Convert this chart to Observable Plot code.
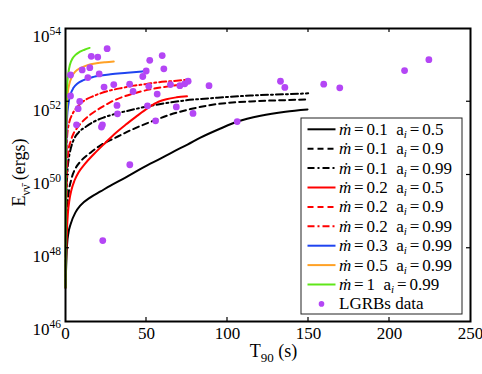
<!DOCTYPE html>
<html><head><meta charset="utf-8">
<script src="https://cdn.jsdelivr.net/npm/d3@7"></script>
<script src="https://cdn.jsdelivr.net/npm/@observablehq/plot@0.6"></script>
<style>body{margin:0;background:#fff} svg{font-family:"Liberation Serif",serif}</style>
</head><body><div id="chart"></div><script>
// ---- data ----
const xTicks = [0, 50, 100, 150, 200, 250];
const yTickExps = [46, 48, 50, 52, 54];

const mdotLabels = ["0.1", "0.1", "0.1", "0.2", "0.2", "0.2", "0.3", "0.5", "1"];
const aLabels    = ["0.5", "0.9", "0.99", "0.5", "0.9", "0.99", "0.99", "0.99", "0.99"];
const colors     = ["#000000", "#000000", "#000000", "#ff0000", "#ff0000", "#ff0000", "#1f44f0", "#ffa125", "#5fe619"];
const dashes     = [null, "6,4", "7,3,2,3", null, "6,4", "7,3,2,3", null, null, null];

// T90 (s) and log10(E) along each model curve
const c1T = [0, 0.93, 1.85, 3.09, 6.17, 9.26, 15.4, 21.6, 27.8, 37.0, 48.1, 58.6, 66.7, 75.3, 83.3, 95.7, 106.2, 120.4, 135.8, 149.4];
const c1E = [46.93, 48.08, 48.43, 48.65, 48.98, 49.17, 49.39, 49.55, 49.71, 49.93, 50.21, 50.45, 50.64, 50.83, 51.02, 51.27, 51.46, 51.62, 51.73, 51.79];
const c2T = [0, 0.37, 0.93, 1.85, 3.70, 6.17, 9.26, 15.43, 21.6, 30.9, 40.1, 52.5, 64.8, 77.2, 92.6, 114.2, 132.7, 149.7];
const c2E = [46.96, 48.21, 48.98, 49.47, 49.90, 50.18, 50.37, 50.61, 50.81, 51.02, 51.22, 51.45, 51.65, 51.80, 51.93, 52.01, 52.04, 52.06];
const c3T = [0, 0.37, 0.74, 1.23, 2.04, 3.40, 5.12, 8.02, 12.35, 17.3, 23.6, 30.9, 38.1, 52.5, 72.8, 93.8, 114.2, 138.9, 149.8];
const c3E = [46.96, 48.49, 49.58, 50.12, 50.45, 50.75, 50.97, 51.16, 51.31, 51.45, 51.57, 51.67, 51.75, 51.89, 52.03, 52.11, 52.17, 52.21, 52.23];
const c4T = [0, 0.49, 0.93, 1.54, 2.47, 3.70, 5.56, 8.02, 11.73, 17.28, 23.46, 30.25, 37.04, 43.2, 51.2, 57.4, 62.3, 68.5, 75.0];
const c4E = [46.93, 47.94, 48.54, 48.98, 49.33, 49.60, 49.85, 50.07, 50.29, 50.56, 50.83, 51.12, 51.37, 51.58, 51.84, 52.00, 52.07, 52.12, 52.15];
const c5T = [0, 0.37, 0.62, 1.05, 1.85, 3.09, 4.94, 7.41, 10.5, 15.4, 21.6, 27.8, 35.2, 43.2, 52.5, 63.6, 74.7];
const c5E = [46.93, 48.49, 49.44, 50.26, 50.67, 50.91, 51.13, 51.30, 51.46, 51.65, 51.83, 51.99, 52.13, 52.24, 52.34, 52.42, 52.49];
const c6T = [0, 0.31, 0.49, 1.05, 2.16, 4.14, 6.17, 9.26, 13.0, 17.5, 21.6, 27.8, 35.2, 42.2, 49.4, 56.8, 64.8, 74.4];
const c6E = [46.93, 48.76, 50.12, 51.08, 51.41, 51.65, 51.80, 51.95, 52.07, 52.16, 52.23, 52.31, 52.38, 52.44, 52.48, 52.53, 52.56, 52.60];
const c7T = [0, 0.31, 0.49, 0.93, 1.85, 3.09, 4.94, 7.41, 11.1, 17.3, 27.8, 38.1, 47.8];
const c7E = [46.93, 49.30, 50.67, 51.54, 51.95, 52.20, 52.38, 52.50, 52.59, 52.68, 52.75, 52.79, 52.83];
const c8T = [0, 0.25, 0.37, 0.74, 1.36, 2.47, 4.01, 6.17, 9.26, 13.6, 19.1, 24.7, 29.8];
const c8E = [46.93, 49.30, 50.94, 51.82, 52.23, 52.50, 52.69, 52.83, 52.92, 53.00, 53.05, 53.08, 53.10];
const c9T = [0, 0.22, 0.31, 0.56, 0.99, 1.73, 2.78, 4.32, 6.17, 8.64, 11.7, 14.9];
const c9E = [46.93, 49.30, 51.22, 52.03, 52.44, 52.77, 53.02, 53.18, 53.28, 53.36, 53.42, 53.47];

const curveT = [c1T, c2T, c3T, c4T, c5T, c6T, c7T, c8T, c9T];
const curveE = [c1E, c2E, c3E, c4E, c5E, c6E, c7E, c8E, c9E];

// LGRBs data: T90 (s) and log10(E)
const grbT = [25.7, 15.9, 19.9, 3.1, 10.3, 15.0, 13.8, 20.8, 3.1, 8.8, 7.8, 6.8, 22.8, 22.2, 23.8, 29.8, 31.8, 32.1,
  39.6, 41.7, 47.7, 49.8, 52.0, 51.4, 56.6, 50.6, 55.6, 59.7, 60.7, 64.8, 68.4, 70.6, 73.6, 75.7, 78.7, 88.6,
  106.0, 39.7, 23.0, 132.7, 135.4, 159.4, 169.3, 209.3, 224.3];
const grbE = [53.45, 53.24, 53.22, 52.73, 52.87, 52.93, 52.66, 52.76, 52.16, 52.01, 51.81, 51.37, 51.37, 51.31, 52.40, 52.47, 51.90, 51.67,
  52.48, 52.28, 52.69, 52.84, 53.13, 52.42, 52.21, 51.89, 51.48, 53.26, 52.90, 52.47, 51.86, 52.44, 52.49, 52.56, 51.68, 52.44,
  51.46, 50.28, 48.21, 52.56, 52.39, 52.48, 52.38, 52.85, 53.15];
const grbColor = "#b446f5";

// ---- build ----
const lineMarks = curveT.map((T, i) => Plot.line(
  T.map((t, j) => ({t, E: 10 ** curveE[i][j]})),
  {x: "t", y: "E", stroke: colors[i], strokeWidth: 2, strokeDasharray: dashes[i], curve: "monotone-x"}
));
const grbData = grbT.map((t, j) => ({t, E: 10 ** grbE[j]}));

const plot = Plot.plot({
  width: 482, height: 374,
  marginLeft: 65, marginRight: 12, marginTop: 28, marginBottom: 53,
  style: {fontFamily: "Liberation Serif, serif", fontSize: "17px", background: "#fff", color: "#000"},
  x: {domain: [0, 250], label: null},
  y: {type: "log", domain: [1e46, 1e54], label: null},
  marks: [
    ...lineMarks,
    Plot.dot(grbData, {x: "t", y: "E", r: 3.4, fill: grbColor, stroke: "none"}),
    Plot.axisX({ticks: xTicks, tickSize: 0, tickPadding: 5, fontSize: 17, label: null, tickFormat: d => String(d)}),
    Plot.axisY({ticks: yTickExps.map(e => 10 ** e), tickSize: 0, tickPadding: 4.5, fontSize: 17, label: null,
      tickFormat: d => "10|" + Math.round(Math.log10(d))}),
    Plot.frame({stroke: "#000", strokeWidth: 2})
  ]
});
document.getElementById("chart").appendChild(plot);

const svg = d3.select(plot);
const xs = plot.scale("x"), ys = plot.scale("y");
const [x0, x1] = xs.range, [y0, y1] = ys.range; // y0 bottom, y1 top

// superscript y tick labels
svg.selectAll('g[aria-label="y-axis tick label"] text').each(function () {
  const t = d3.select(this);
  const [base, exp] = t.text().split("|");
  t.text(null).attr("dy", "0.5em");
  t.append("tspan").text(base);
  t.append("tspan").attr("dy", "-0.62em").attr("font-size", "11.5px").text(exp);
});

// inward ticks on all four sides
const tg = svg.append("g").attr("stroke", "#000").attr("stroke-width", 1.2);
xTicks.slice(1, -1).forEach(v => {
  const px = xs.apply(v);
  tg.append("line").attr("x1", px).attr("x2", px).attr("y1", y0).attr("y2", y0 - 4);
  tg.append("line").attr("x1", px).attr("x2", px).attr("y1", y1).attr("y2", y1 + 4);
});
yTickExps.slice(1, -1).forEach(e => {
  const py = ys.apply(10 ** e);
  tg.append("line").attr("x1", x0).attr("x2", x0 + 4).attr("y1", py).attr("y2", py);
  tg.append("line").attr("x1", x1).attr("x2", x1 - 4).attr("y1", py).attr("y2", py);
});

// axis titles
const xl = svg.append("text").attr("x", (x0 + x1) / 2 + 6).attr("y", 357)
  .attr("text-anchor", "middle").attr("font-size", 18).attr("fill", "#000");
xl.append("tspan").text("T");
xl.append("tspan").attr("dy", 5).attr("font-size", 13).text("90");
xl.append("tspan").attr("dy", -5).text(" (s)");

const yl = svg.append("text").attr("transform", `translate(25,${(y0 + y1) / 2 - 2}) rotate(-90)`)
  .attr("text-anchor", "middle").attr("font-size", 18).attr("fill", "#000");
yl.append("tspan").text("E");
yl.append("tspan").attr("dy", 5).attr("font-size", 12).text("\u03bd\u03bd\u0304");
yl.append("tspan").attr("dy", -5).text(" (ergs)");

// legend
const lg = svg.append("g").attr("transform", "translate(301,118)").attr("text-anchor", "start");
lg.append("rect").attr("width", 161).attr("height", 196).attr("fill", "#fff").attr("stroke", "#222").attr("stroke-width", 1);
const rowH = 19.4, row0 = 11.3;
const sp = "\u2006";
mdotLabels.forEach((m, i) => {
  const cy = row0 + i * rowH;
  lg.append("line").attr("x1", 6.5).attr("x2", 34.5).attr("y1", cy).attr("y2", cy)
    .attr("stroke", colors[i]).attr("stroke-width", 2).attr("stroke-dasharray", dashes[i]);
  const t = lg.append("text").attr("x", 38).attr("y", cy + 5.5).attr("font-size", 17).attr("fill", "#000").attr("text-anchor", "start");
  t.append("tspan").attr("font-style", "italic").text("\u1e41");
  t.append("tspan").text(sp + "=" + sp + m + "\u2002a");
  t.append("tspan").attr("font-size", 11).attr("font-style", "italic").attr("dy", 3).text("i");
  t.append("tspan").attr("dy", -3).text(sp + "=" + sp + aLabels[i]);
});
{
  const cy = row0 + 9 * rowH;
  lg.append("circle").attr("cx", 20.5).attr("cy", cy).attr("r", 2.8).attr("fill", grbColor);
  lg.append("text").attr("x", 38).attr("y", cy + 5.5).attr("font-size", 17).attr("fill", "#000").attr("text-anchor", "start").text("LGRBs data");
}
</script></body></html>
